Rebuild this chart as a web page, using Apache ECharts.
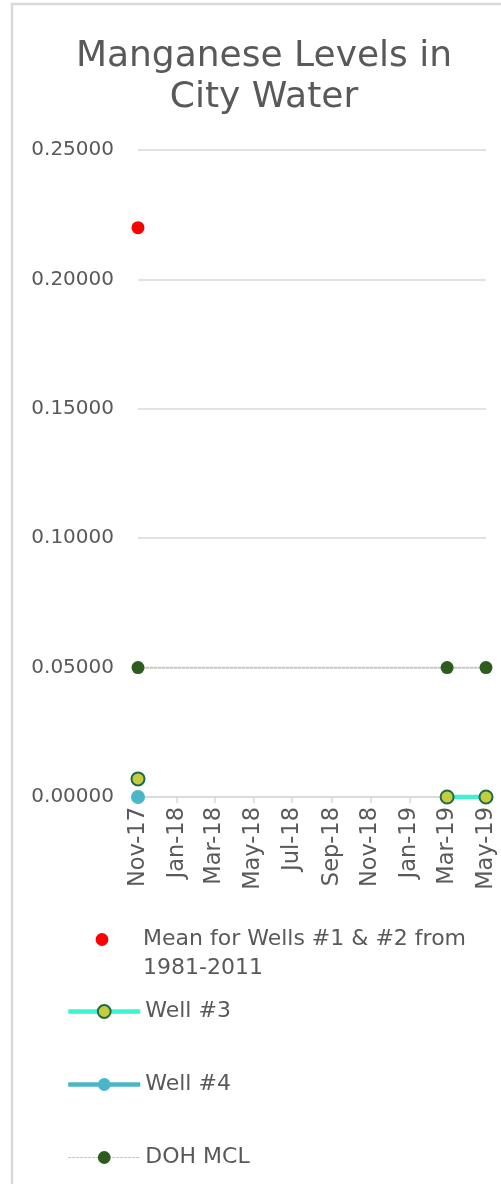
<!DOCTYPE html>
<html>
	<head>
		<meta charset="UTF-8">
		<title>Manganese Levels in City Water</title>
		<script src="https://cdn.jsdelivr.net/npm/echarts@6/dist/echarts.min.js"></script>
		<style>
			html, body { margin: 0; padding: 0; background: #fff; overflow: hidden; }
			#main { width: 501px; height: 1184px; }
		</style>
	</head>
	<body>
		<div id="main"></div>
		<script type="text/javascript">
		// data
		var sampleDates = ['2017-11-01', '2019-03-01', '2019-05-01'];
		var meanWells12 = [0.22, null, null];
		var well3 = [0.007, 0, 0];
		var well3BreakBefore = [1]; // line not drawn Nov-17 -> Mar-19
		var well4 = [0, null, null];
		var dohMcl = [0.05, 0.05, 0.05];

		var xTickDates = ['2017-11-01', '2018-01-01', '2018-03-01', '2018-05-01', '2018-07-01',
			'2018-09-01', '2018-11-01', '2019-01-01', '2019-03-01', '2019-05-01'];
		var xTickLabels = ['Nov-17', 'Jan-18', 'Mar-18', 'May-18', 'Jul-18',
			'Sep-18', 'Nov-18', 'Jan-19', 'Mar-19', 'May-19'];

		var meanName = 'Mean for Wells #1 & #2 from 1981-2011';
		var font = '"DejaVu Sans", sans-serif';
		var gray = '#595959';

		// dates as day numbers (date axis)
		function day(s) {
			var p = s.split('-');
			return Math.round(Date.UTC(+p[0], +p[1] - 1, +p[2]) / 86400000);
		}
		function pairs(values, breaks) {
			var out = [];
			for (var i = 0; i < values.length; i++) {
				if (values[i] === null) continue;
				if (breaks && breaks.indexOf(i) > -1) out.push([day(sampleDates[i]), '-']);
				out.push([day(sampleDates[i]), values[i]]);
			}
			return out;
		}
		var tickDays = xTickDates.map(day);

		var legendText = { fontFamily: font, fontSize: 22, color: gray, lineHeight: 29 };

		var myChart = echarts.init(document.getElementById('main'));
		myChart.setOption({
			animation: false,
			title: {
				text: 'Manganese Levels in\nCity Water',
				left: 264,
				textAlign: 'center',
				top: 36,
				padding: 0,
				textStyle: { fontFamily: font, fontSize: 36, fontWeight: 'normal', color: gray, lineHeight: 41 }
			},
			graphic: [{
				type: 'rect',
				shape: { x: 12, y: 4, width: 600, height: 1300 },
				style: { fill: null, stroke: '#d9d9d9', lineWidth: 2.5 },
				silent: true
			}],
			grid: { left: 138, right: 15, top: 150, bottom: 387, outerBoundsMode: 'none' },
			legend: [{
				// first entry wraps to two lines; leading blank line keeps marker on line 1
				orient: 'vertical',
				left: 66,
				top: 896,
				padding: 0,
				itemWidth: 72,
				itemHeight: 16,
				textStyle: legendText,
				formatter: function () {
					return '\nMean for Wells #1 & #2 from\n1981-2011';
				},
				data: [meanName]
			}, {
				orient: 'vertical',
				left: 66,
				top: 997,
				padding: 0,
				itemWidth: 72,
				itemHeight: 16,
				itemGap: 44,
				textStyle: legendText,
				data: [
					{ name: 'Well #3', lineStyle: { width: 4.5 } },
					{ name: 'Well #4', lineStyle: { width: 4.5 } },
					{ name: 'DOH MCL', lineStyle: { width: 1.2 } }
				]
			}],
			xAxis: {
				type: 'value',
				min: tickDays[0],
				max: tickDays[tickDays.length - 1],
				splitLine: { show: false },
				axisLine: { lineStyle: { color: '#d9d9d9', width: 1.5 } },
				axisTick: { show: true, customValues: tickDays, length: 6, lineStyle: { color: '#d9d9d9', width: 1.5 } },
				axisLabel: {
					customValues: tickDays,
					rotate: 90,
					margin: 10,
					fontFamily: font,
					fontSize: 22.5,
					color: gray,
					formatter: function (v) {
						var i = tickDays.indexOf(v);
						return i > -1 ? xTickLabels[i] : '';
					}
				}
			},
			yAxis: {
				type: 'value',
				min: 0,
				max: 0.25,
				interval: 0.05,
				axisLine: { show: false },
				axisTick: { show: false },
				splitLine: { lineStyle: { color: '#d9d9d9', width: 1.5 } },
				axisLabel: {
					margin: 24,
					fontFamily: font,
					fontSize: 20,
					color: gray,
					formatter: function (v) { return v.toFixed(5); }
				}
			},
			series: [
				{
					name: 'DOH MCL',
					type: 'line',
					data: pairs(dohMcl),
					symbol: 'circle',
					symbolSize: 13,
					z: 2,
					itemStyle: { color: '#2e5c1f' },
					lineStyle: { color: '#bcc8b4', width: 1.5, type: [3, 1] }
				},
				{
					name: 'Well #4',
					type: 'line',
					data: pairs(well4),
					symbol: 'circle',
					symbolSize: 14,
					z: 3,
					itemStyle: { color: '#4bb6c9' },
					lineStyle: { color: '#4bb6c9', width: 4.5 }
				},
				{
					name: 'Well #3',
					type: 'line',
					data: pairs(well3, well3BreakBefore),
					symbol: 'circle',
					symbolSize: 13,
					z: 4,
					itemStyle: { color: '#c6cc3c', borderColor: '#1d6a4c', borderWidth: 2 },
					lineStyle: { color: '#3df3d2', width: 4.5 }
				},
				{
					name: meanName,
					type: 'line',
					data: pairs(meanWells12),
					symbol: 'circle',
					symbolSize: 13,
					z: 5,
					itemStyle: { color: '#ff0000' },
					lineStyle: { width: 0, opacity: 0 }
				}
			]
		});
		</script>
	</body>
</html>
